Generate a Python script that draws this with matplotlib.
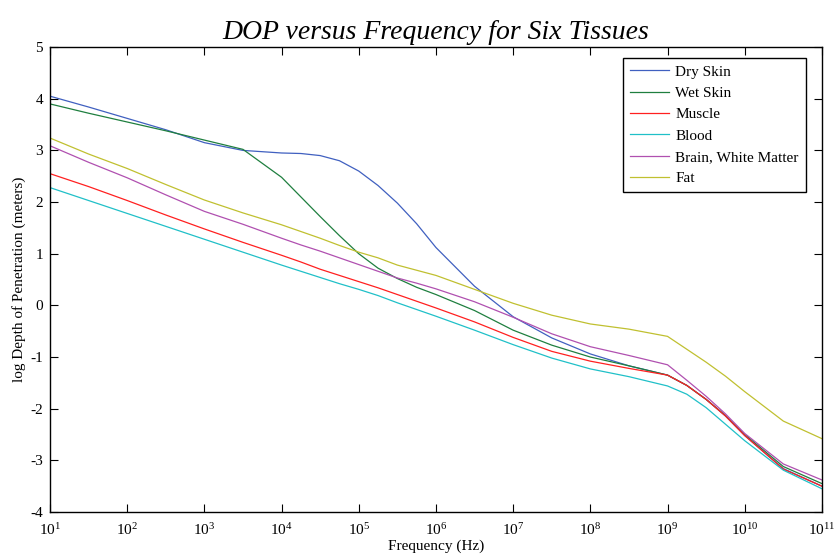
import numpy as np
import matplotlib
matplotlib.use("Agg")
import matplotlib.pyplot as plt

# log10 of frequency (Hz) where the curves were read
log_freq = [1, 1.5, 2, 2.5, 3, 3.5, 4, 4.25, 4.5, 4.75, 5, 5.25, 5.5, 5.75,
            6, 6.5, 7, 7.5, 8, 8.5, 9, 9.25, 9.5, 9.75, 10, 10.5, 11]

# log depth of penetration (meters)
dry_skin = [4.05, 3.84, 3.62, 3.40, 3.15, 3.00, 2.95, 2.94, 2.90, 2.80, 2.60, 2.32, 1.98, 1.58,
            1.12, 0.37, -0.22, -0.63, -0.94, -1.17, -1.35, -1.55, -1.82, -2.14, -2.52, -3.16, -3.50]
wet_skin = [3.90, 3.72, 3.55, 3.38, 3.20, 3.02, 2.48, 2.10, 1.72, 1.35, 1.00, 0.72, 0.52, 0.35,
            0.21, -0.10, -0.48, -0.77, -1.00, -1.17, -1.35, -1.55, -1.82, -2.13, -2.50, -3.12, -3.45]
muscle = [2.55, 2.30, 2.03, 1.75, 1.48, 1.22, 0.97, 0.84, 0.70, 0.58, 0.46, 0.34, 0.21, 0.08,
          -0.05, -0.32, -0.62, -0.89, -1.08, -1.22, -1.35, -1.55, -1.82, -2.14, -2.52, -3.17, -3.50]
blood = [2.28, 2.03, 1.78, 1.53, 1.28, 1.03, 0.78, 0.66, 0.54, 0.42, 0.31, 0.19, 0.05, -0.08,
         -0.21, -0.48, -0.76, -1.02, -1.23, -1.38, -1.56, -1.72, -1.98, -2.30, -2.62, -3.19, -3.55]
brain = [3.09, 2.77, 2.47, 2.14, 1.82, 1.57, 1.30, 1.17, 1.05, 0.92, 0.79, 0.66, 0.53, 0.43,
         0.32, 0.07, -0.23, -0.55, -0.80, -0.97, -1.15, -1.45, -1.76, -2.10, -2.48, -3.07, -3.38]
fat = [3.24, 2.93, 2.65, 2.34, 2.04, 1.79, 1.56, 1.43, 1.30, 1.16, 1.03, 0.92, 0.78, 0.68,
       0.58, 0.31, 0.04, -0.19, -0.36, -0.46, -0.60, -0.85, -1.10, -1.37, -1.67, -2.24, -2.58]

nomes = ["Dry Skin", "Wet Skin", "Muscle", "Blood", "Brain, White Matter", "Fat"]
cores = ["#4060c0", "#1f7f3f", "#ff2020", "#20c0c8", "#b050b0", "#c0c030"]

plt.rcParams['font.family'] = ['Liberation Serif', 'DejaVu Serif']
plt.rcParams['mathtext.fontset'] = 'custom'
plt.rcParams['mathtext.rm'] = 'Liberation Serif'
plt.rcParams['mathtext.it'] = 'Liberation Serif:italic'
plt.rcParams['axes.unicode_minus'] = False

freq = 10.0 ** np.array(log_freq)

fig = plt.figure(figsize=(8.37, 5.54), dpi=100)
ax = fig.add_axes([0.0597, 0.0758, 0.9223, 0.8392])

for serie, nome, cor in zip([dry_skin, wet_skin, muscle, blood, brain, fat], nomes, cores):
    ax.plot(freq, serie, color=cor, linewidth=0.9, label=nome)

ax.set_xscale('log')
ax.set_xlim(1e1, 1e11)
ax.set_ylim(-4, 5)
ax.set_xticks(10.0 ** np.arange(1, 12))
ax.set_yticks(np.arange(-4, 6))
ax.tick_params(which='both', direction='in', top=True, right=True, labelsize=11)
ax.tick_params(which='major', length=6)
ax.tick_params(which='minor', length=3)
ax.tick_params(axis='x', which='major', pad=7)
ax.tick_params(axis='y', which='major', pad=5)
for s in ax.spines.values():
    s.set_linewidth(1.0)

ax.set_title("DOP versus Frequency for Six Tissues", fontsize=20, style='italic', pad=6)
ax.set_xlabel("Frequency (Hz)", fontsize=11, labelpad=1)
ax.set_ylabel("log Depth of Penetration (meters)", fontsize=11, labelpad=3)

leg = ax.legend(loc='upper right', bbox_to_anchor=(0.979, 0.976), borderaxespad=0,
                fontsize=11, fancybox=False, framealpha=1, edgecolor='black',
                handlelength=2.6, handletextpad=0.4, borderpad=0.45, labelspacing=0.5)
leg.get_frame().set_linewidth(1.0)

fig.savefig("out.png", dpi=100)
plt.close(fig)
